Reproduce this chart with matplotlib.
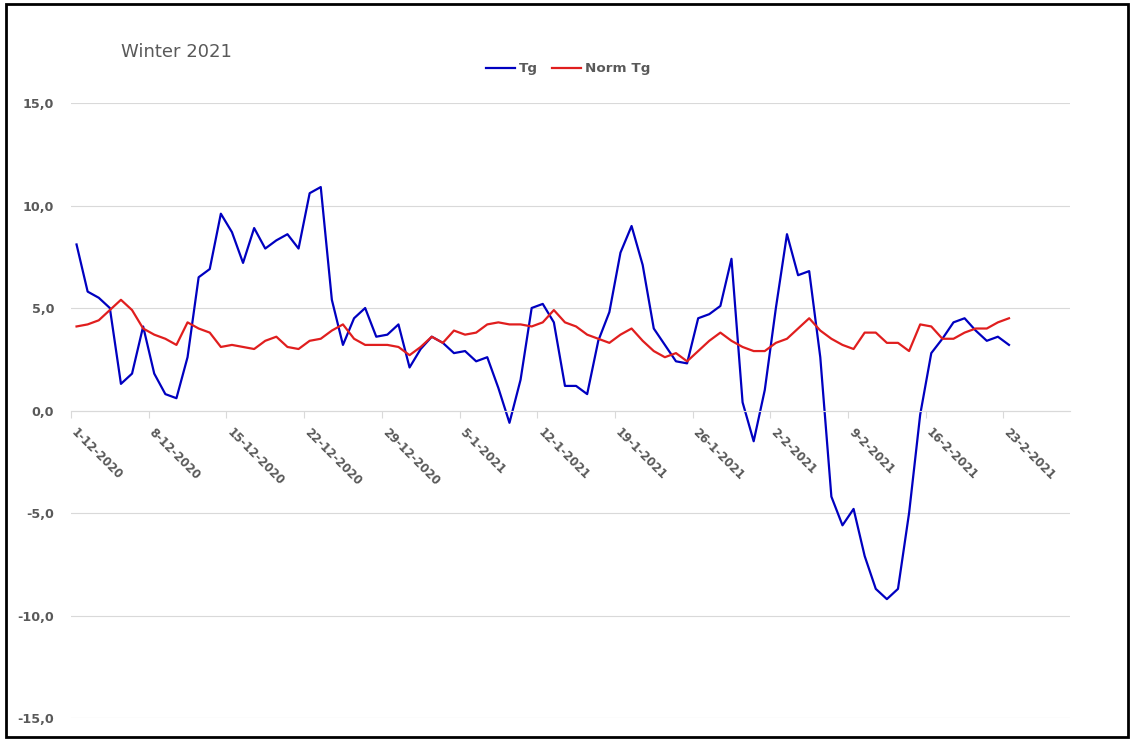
import numpy as np
import pandas as pd
import matplotlib
matplotlib.use("Agg")
import matplotlib.pyplot as plt
from matplotlib.patches import Rectangle

# daily values 1-12-2020 .. 23-2-2021
start = "2020-12-01"
tg = [8.1, 5.8, 5.5, 5.0, 1.3, 1.8, 4.1, 1.8, 0.8, 0.6,
      2.6, 6.5, 6.9, 9.6, 8.7, 7.2, 8.9, 7.9, 8.3, 8.6,
      7.9, 10.6, 10.9, 5.4, 3.2, 4.5, 5.0, 3.6, 3.7, 4.2,
      2.1, 3.0, 3.6, 3.3, 2.8, 2.9, 2.4, 2.6, 1.1, -0.6,
      1.5, 5.0, 5.2, 4.3, 1.2, 1.2, 0.8, 3.4, 4.8, 7.7,
      9.0, 7.1, 4.0, 3.2, 2.4, 2.3, 4.5, 4.7, 5.1, 7.4,
      0.4, -1.5, 1.0, 5.0, 8.6, 6.6, 6.8, 2.6, -4.2, -5.6,
      -4.8, -7.1, -8.7, -9.2, -8.7, -5.0, -0.2, 2.8, 3.5, 4.3,
      4.5, 3.9, 3.4, 3.6, 3.2]
norm_tg = [4.1, 4.2, 4.4, 4.9, 5.4, 4.9, 4.0, 3.7, 3.5, 3.2,
           4.3, 4.0, 3.8, 3.1, 3.2, 3.1, 3.0, 3.4, 3.6, 3.1,
           3.0, 3.4, 3.5, 3.9, 4.2, 3.5, 3.2, 3.2, 3.2, 3.1,
           2.7, 3.1, 3.6, 3.3, 3.9, 3.7, 3.8, 4.2, 4.3, 4.2,
           4.2, 4.1, 4.3, 4.9, 4.3, 4.1, 3.7, 3.5, 3.3, 3.7,
           4.0, 3.4, 2.9, 2.6, 2.8, 2.4, 2.9, 3.4, 3.8, 3.4,
           3.1, 2.9, 2.9, 3.3, 3.5, 4.0, 4.5, 3.9, 3.5, 3.2,
           3.0, 3.8, 3.8, 3.3, 3.3, 2.9, 4.2, 4.1, 3.5, 3.5,
           3.8, 4.0, 4.0, 4.3, 4.5]

days = pd.date_range(start, periods=90)   # axis runs to end of februari
x = np.arange(len(tg))

grey = "#595959"
fig = plt.figure(figsize=(11.34, 7.41), dpi=100)
ax = fig.add_axes([0.0626, 0.031, 0.881, 0.830])

ax.plot(x, tg, color="#0000C0", lw=1.6, label="Tg")
ax.plot(x, norm_tg, color="#E01E1E", lw=1.6, label="Norm Tg")

# x-axis on the zero line (set before the tick labels, it resets them)
for s in ["left", "right", "top"]:
    ax.spines[s].set_visible(False)
ax.spines["bottom"].set_position(("data", 0))
ax.spines["bottom"].set_color("#d9d9d9")

ax.set_xlim(-0.5, 89.5)
ax.set_ylim(-15, 15)
ax.set_yticks(np.arange(-15, 16, 5))
ax.set_yticklabels([f"{v:.1f}".replace(".", ",") for v in np.arange(-15, 16, 5)],
                   fontsize=9.2, fontweight="bold", color=grey)
ax.grid(axis="y", color="#d9d9d9", lw=0.8)
ax.set_axisbelow(True)
ax.tick_params(axis="y", length=0, pad=12)

# week ticks
wk = np.arange(0, 90, 7)
ax.set_xticks(wk - 0.5)
ax.set_xticklabels([f"{d.day}-{d.month}-{d.year}" for d in days[wk]],
                   rotation=-45, ha="left", va="baseline", rotation_mode="anchor",
                   fontsize=8.5, fontweight="bold", color=grey)
ax.tick_params(axis="x", length=5, color="#d9d9d9", pad=11)

fig.text(0.1067, 0.93, "Winter 2021", fontsize=13, color=grey, va="center")
fig.legend(loc="center", bbox_to_anchor=(0.501, 0.907), ncol=2, frameon=False,
           handlelength=2.2, handletextpad=0.3, columnspacing=1.0,
           prop={"size": 9.7, "weight": "bold"}, labelcolor=grey)

fig.patches.append(Rectangle((0.005, 0.006), 0.99, 0.988, transform=fig.transFigure,
                             fill=False, ec="black", lw=2))

fig.savefig("out.png", dpi=100)
